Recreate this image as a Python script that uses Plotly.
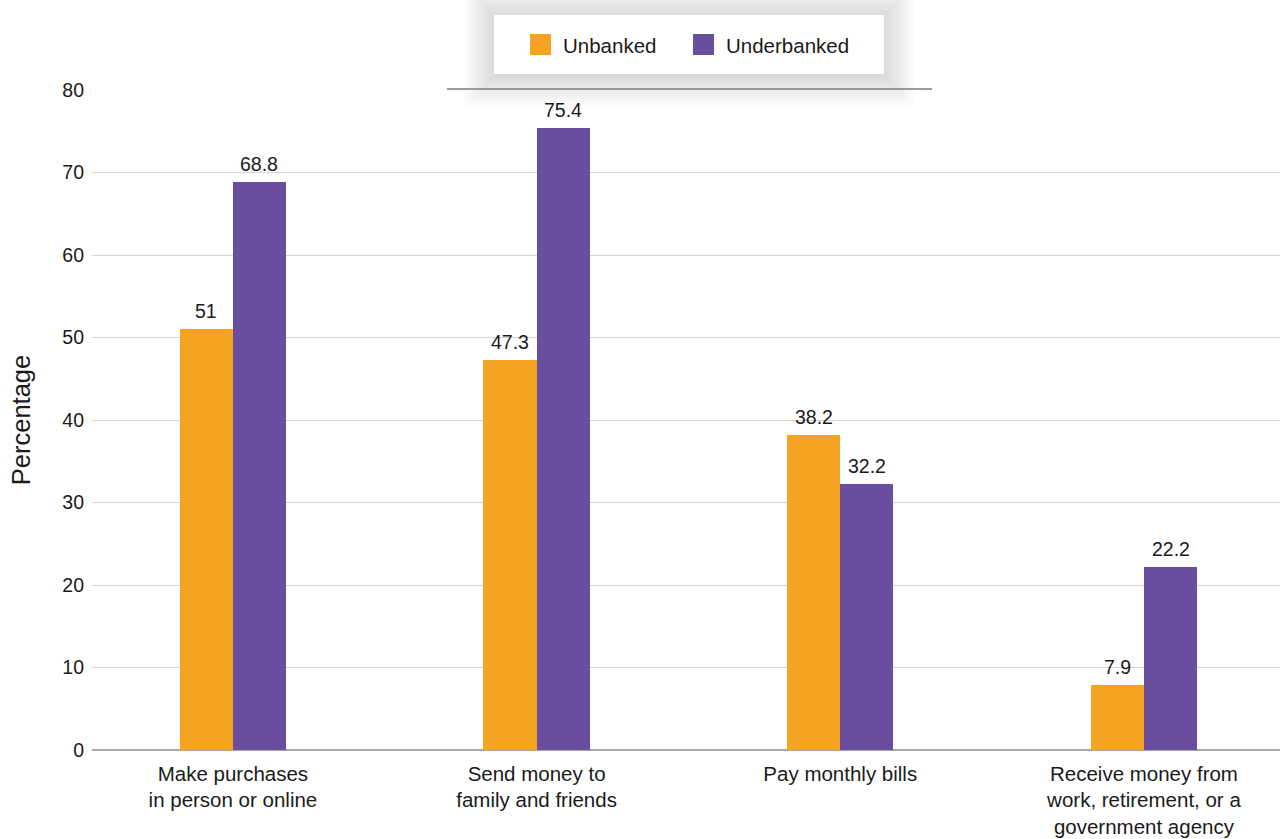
import plotly.graph_objects as go

# Data
categories = [
    "Make purchases<br>in person or online",
    "Send money to<br>family and friends",
    "Pay monthly bills",
    "Receive money from<br>work, retirement, or a<br>government agency",
]
unbanked = [51, 47.3, 38.2, 7.9]
underbanked = [68.8, 75.4, 32.2, 22.2]
series_names = ["Unbanked", "Underbanked"]
y_ticks = [0, 10, 20, 30, 40, 50, 60, 70, 80]

# Style
ORANGE = "#F5A322"
PURPLE = "#6A4E9E"
TEXT = "#1a1a1a"
FONT = "Liberation Sans, Arial, sans-serif"
W, H = 1280, 839
M_L, M_R, M_T, M_B = 92, 0, 90, 89
BAR_W = 0.175

fig = go.Figure()
idx = list(range(len(categories)))
for name, vals, color, off in [
    (series_names[0], unbanked, ORANGE, -BAR_W),
    (series_names[1], underbanked, PURPLE, 0.0),
]:
    fig.add_trace(go.Bar(
        x=idx, y=vals, name=name, marker=dict(color=color, line=dict(width=0)),
        width=BAR_W, offset=off, showlegend=False,
        hovertemplate="%{y}<extra>" + name + "</extra>",
    ))
    # value labels centred over each bar
    for i, v in zip(idx, vals):
        fig.add_annotation(
            x=i + off + BAR_W / 2, y=v, xref="x", yref="y",
            text=f"{v:g}", showarrow=False, yanchor="bottom", yshift=5,
            font=dict(family=FONT, size=19.5, color=TEXT),
        )

# Pixel -> paper coordinate helpers for the legend panel
pw = W - M_L - M_R
ph = H - M_T - M_B


def px(xp):
    return (xp - M_L) / pw


def py(yp):
    return (H - M_B - yp) / ph


shapes = []
# soft shadow around the legend panel
box = (494, 15, 884, 74)
for k in range(12, 0, -1):
    d = k * 2.5
    shapes.append(dict(
        type="rect", xref="paper", yref="paper", layer="above",
        x0=px(box[0] - d), x1=px(box[2] + d), y0=py(box[3] + d + 2), y1=py(box[1] - d + 1),
        fillcolor="rgba(0,0,0,0.012)", line=dict(width=0),
    ))
shapes.append(dict(
    type="line", xref="paper", yref="paper", layer="above",
    x0=px(447), x1=px(932), y0=py(89), y1=py(89),
    line=dict(color="#9a9a9a", width=2),
))
shapes.append(dict(
    type="rect", xref="paper", yref="paper", layer="above",
    x0=px(box[0]), x1=px(box[2]), y0=py(box[3]), y1=py(box[1]),
    fillcolor="white", line=dict(width=0),
))
# legend swatches and labels
legend_items = [(series_names[0], ORANGE, 530), (series_names[1], PURPLE, 693)]
for name, color, x0 in legend_items:
    shapes.append(dict(
        type="rect", xref="paper", yref="paper", layer="above",
        x0=px(x0), x1=px(x0 + 21), y0=py(55), y1=py(34),
        fillcolor=color, line=dict(width=0),
    ))
    fig.add_annotation(
        x=px(x0 + 31), y=py(45), xref="paper", yref="paper",
        text=name, showarrow=False, xanchor="left", yanchor="middle",
        font=dict(family=FONT, size=20.5, color=TEXT),
    )

fig.update_layout(
    width=W, height=H,
    margin=dict(l=M_L, r=M_R, t=M_T, b=M_B, autoexpand=False),
    plot_bgcolor="white", paper_bgcolor="white",
    font=dict(family=FONT, size=19, color=TEXT),
    shapes=shapes,
    bargap=0,
    xaxis=dict(
        tickmode="array", tickvals=idx, ticktext=categories,
        range=[-0.464, 3.448], showgrid=False, zeroline=False,
        showline=False, ticks="", ticklabelstandoff=9,
        tickfont=dict(size=20.5, color=TEXT),
        automargin=False, fixedrange=True,
    ),
    yaxis=dict(
        range=[0, 80], tickvals=y_ticks, showgrid=True, gridcolor="#d4d4d4",
        gridwidth=1, zeroline=True, zerolinecolor="#a8a8a8", zerolinewidth=1.5,
        showline=False, ticks="", ticklabelstandoff=7,
        tickfont=dict(size=19.5, color=TEXT),
        title=dict(text="Percentage", font=dict(size=25.5, color=TEXT), standoff=24),
        automargin=False, fixedrange=True,
    ),
)

fig.write_html("out.html")
